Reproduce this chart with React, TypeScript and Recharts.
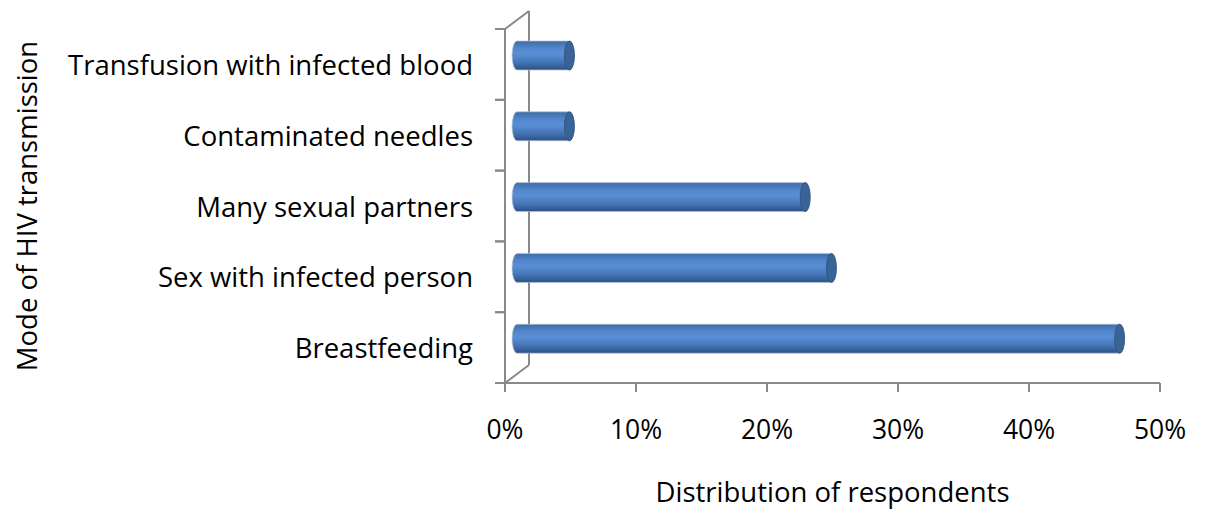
import { BarChart, Bar, XAxis, YAxis, Label, usePlotArea } from "recharts";

// categories listed top to bottom as in the picture
const categories = [
  "Transfusion with infected blood",
  "Contaminated needles",
  "Many sexual partners",
  "Sex with infected person",
  "Breastfeeding",
];
const shares = [4, 4, 22, 24, 46];
const percentTicks = [0, 10, 20, 30, 40, 50];

const data = categories.map((name, i) => ({ name, share: shares[i] }));

const FONT = "'Open Sans', sans-serif";
const AXIS = "#898989";
const DEPTH_X = 24;
const DEPTH_Y = 18;

// horizontal cylinder, sitting half way into the 3d box
function Cylinder(props: any) {
  const { x, y, width, height } = props;
  if (!width || width <= 0) return null;
  const x0 = x + DEPTH_X / 2;
  const y0 = y - DEPTH_Y / 2;
  const x1 = x0 + width;
  const rx = 5;
  const ry = height / 2;
  const body = `M${x0},${y0} L${x1},${y0} A${rx},${ry} 0 0 1 ${x1},${y0 + height} L${x0},${y0 + height} A${rx},${ry} 0 0 1 ${x0},${y0} Z`;
  return (
    <g>
      <path d={body} fill="url(#cylBody)" stroke="#b9c6d8" strokeWidth={0.7} />
      <ellipse cx={x1} cy={y0 + ry} rx={rx} ry={ry} fill="#3a6396" stroke="#2d5383" strokeWidth={0.8} />
    </g>
  );
}

// side wall of the 3d box
function Walls() {
  const area = usePlotArea();
  if (!area) return null;
  const { x, y, width, height } = area;
  const bottom = y + height;
  return (
    <g stroke={AXIS} strokeWidth={2} fill="none">
      <line x1={x + DEPTH_X} y1={y - DEPTH_Y} x2={x + DEPTH_X} y2={bottom - DEPTH_Y} />
      <line x1={x} y1={y} x2={x + DEPTH_X} y2={y - DEPTH_Y} />
      <line x1={x} y1={bottom} x2={x + DEPTH_X} y2={bottom - DEPTH_Y} />
      <line x1={x - 10} y1={bottom} x2={x} y2={bottom} />
      <line x1={x} y1={y} x2={x} y2={bottom} />
      <line x1={x} y1={bottom} x2={x + width} y2={bottom} />
      <defs>
        <linearGradient id="cylBody" x1="0" y1="0" x2="0" y2="1">
          <stop offset="0%" stopColor="#3d6ca6" />
          <stop offset="25%" stopColor="#5287cc" />
          <stop offset="45%" stopColor="#5a8fd6" />
          <stop offset="75%" stopColor="#4373b3" />
          <stop offset="100%" stopColor="#2b5185" />
        </linearGradient>
      </defs>
    </g>
  );
}

function CategoryTick(props: any) {
  const { x, y, payload } = props;
  const half = payload && payload.offset ? payload.offset : 35.4;
  return (
    <g>
      <line x1={x - 10} x2={x} y1={y - half} y2={y - half} stroke={AXIS} strokeWidth={2} />
      <line x1={x - 10} x2={x} y1={y + half} y2={y + half} stroke={AXIS} strokeWidth={2} />
      <text x={x - 32} y={y} textAnchor="end" dominantBaseline="central" fontFamily={FONT} fontSize={27.5} fill="#000">
        {payload.value}
      </text>
    </g>
  );
}

export default function App() {
  return (
    <div style={{ position: "absolute", left: 0, top: 0, background: "#fff" }}>
      <BarChart
        width={1205}
        height={513}
        data={data}
        layout="vertical"
        margin={{ top: 29, right: 45, left: 0, bottom: 0 }}
      >
        <Walls />
        <XAxis
          type="number"
          domain={[0, 50]}
          ticks={percentTicks}
          tickFormatter={(v: number) => `${v}%`}
          height={130}
          axisLine={false}
          tickLine={{ stroke: AXIS, strokeWidth: 2 }}
          tickSize={9}
          tickMargin={28}
          tick={{ fill: "#000", fontSize: 26.5, fontFamily: FONT }}
        >
          <Label
            value="Distribution of respondents"
            position="insideBottom"
            offset={11}
            fill="#000"
            fontSize={27.5}
            fontFamily={FONT}
          />
        </XAxis>
        <YAxis
          type="category"
          dataKey="name"
          width={505}
          axisLine={false}
          tickLine={false}
          tickSize={0}
          tickMargin={0}
          tick={<CategoryTick />}
        >
          <Label
            value="Mode of HIV transmission"
            angle={-90}
            position="insideLeft"
            offset={27}
            fill="#000"
            fontSize={27.5}
            fontFamily={FONT}
            style={{ textAnchor: "middle" }}
          />
        </YAxis>
        <Bar dataKey="share" barSize={29} shape={<Cylinder />} isAnimationActive={false} />
      </BarChart>
    </div>
  );
}
